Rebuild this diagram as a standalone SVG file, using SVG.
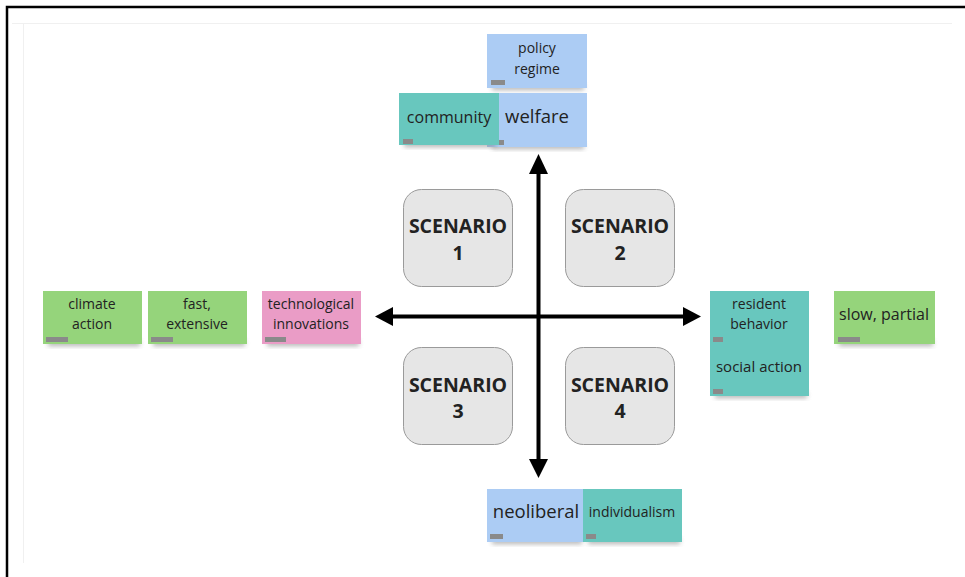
<svg xmlns="http://www.w3.org/2000/svg" width="965" height="577" viewBox="0 0 965 577">
<defs>
<filter id="sh" x="-20%" y="-50%" width="140%" height="200%"><feGaussianBlur stdDeviation="2.5"/></filter>
</defs>
<style>
.note text{font-family:"Open Sans","Noto Sans",sans-serif;fill:#222;text-anchor:middle}
.s14{font-size:14px}.s15{font-size:15px}.s16{font-size:16px}.s18{font-size:18.5px}
.blue{fill:#acccf4}.teal{fill:#68c7be}.green{fill:#95d47b}.pink{fill:#ea9cc6}
.tab{fill:#8a8a8a}
.shd{fill:#777;opacity:0.55;filter:url(#sh)}
.scn rect{fill:#e6e6e6;stroke:#9a9a9a;stroke-width:1}
.scn text{font-family:"Open Sans","Noto Sans",sans-serif;font-weight:bold;font-size:19.5px;fill:#222;text-anchor:middle}
.ax{stroke:#000;stroke-width:4;fill:none}
</style>
<rect width="965" height="577" fill="#fff"/>
<path d="M7,577 V7 H965" stroke="#000" stroke-width="2.5" fill="none"/>
<path d="M12,23.5 H952 M23.5,23.5 V563" stroke="#f0f0f0" stroke-width="1" fill="none"/>

<g id="policy-regime" class="note">
<rect class="shd" x="492" y="84" width="92" height="6"/>
<rect class="blue" x="487" y="34" width="100" height="54"/>
<rect class="tab" x="491" y="80" width="14" height="5"/>
<text class="s14" x="537" y="53">policy</text>
<text class="s14" x="537" y="74">regime</text>
</g>
<g id="welfare" class="note">
<rect class="shd" x="492" y="143" width="92" height="6"/>
<rect class="blue" x="487" y="93" width="100" height="54"/>
<rect class="tab" x="499" y="140" width="5" height="5"/>
<text class="s18" x="537" y="123">welfare</text>
</g>
<g id="community" class="note">
<rect class="shd" x="404" y="141" width="92" height="6"/>
<rect class="teal" x="399" y="93" width="100" height="52"/>
<rect class="tab" x="403" y="139" width="10" height="5"/>
<text class="s16" x="449" y="123">community</text>
</g>

<g id="climate-action" class="note">
<rect class="shd" x="48" y="340" width="92" height="6"/>
<rect class="green" x="43" y="291" width="99" height="53"/>
<rect class="tab" x="46" y="337" width="22" height="5"/>
<text class="s14" x="92" y="309">climate</text>
<text class="s14" x="92" y="329">action</text>
</g>
<g id="fast-extensive" class="note">
<rect class="shd" x="153" y="340" width="92" height="6"/>
<rect class="green" x="148" y="291" width="99" height="53"/>
<rect class="tab" x="151" y="337" width="22" height="5"/>
<text class="s14" x="197" y="309">fast,</text>
<text class="s14" x="197" y="329">extensive</text>
</g>
<g id="technological-innovations" class="note">
<rect class="shd" x="267" y="340" width="92" height="6"/>
<rect class="pink" x="262" y="291" width="99" height="53"/>
<rect class="tab" x="265" y="337" width="21" height="5"/>
<text class="s14" x="311" y="309">technological</text>
<text class="s14" x="311" y="329">innovations</text>
</g>

<g id="resident-behavior" class="note">
<rect class="teal" x="710" y="291" width="99" height="53"/>
<rect class="tab" x="713" y="337" width="10" height="5"/>
<text class="s14" x="759" y="309">resident</text>
<text class="s14" x="759" y="329">behavior</text>
</g>
<g id="social-action" class="note">
<rect class="shd" x="715" y="392" width="92" height="6"/>
<rect class="teal" x="710" y="344" width="99" height="52"/>
<rect class="tab" x="713" y="389" width="10" height="5"/>
<text class="s15" x="759" y="372">social action</text>
</g>
<g id="slow-partial" class="note">
<rect class="shd" x="839" y="340" width="94" height="6"/>
<rect class="green" x="834" y="291" width="101" height="53"/>
<rect class="tab" x="838" y="337" width="22" height="5"/>
<text class="s16" x="884" y="320">slow, partial</text>
</g>

<g id="neoliberal" class="note">
<rect class="shd" x="492" y="538" width="90" height="6"/>
<rect class="blue" x="487" y="489" width="96" height="53"/>
<rect class="tab" x="490" y="534" width="13" height="5"/>
<text class="s18" x="536" y="518">neoliberal</text>
</g>
<g id="individualism" class="note">
<rect class="shd" x="588" y="538" width="92" height="6"/>
<rect class="teal" x="583" y="489" width="99" height="53"/>
<rect class="tab" x="586" y="534" width="10" height="5"/>
<text class="s14" x="632" y="517">individualism</text>
</g>

<g id="scenario-1" class="scn"><rect x="403.5" y="189.5" width="109" height="97" rx="18"/><text x="458" y="233">SCENARIO</text><text x="458" y="260">1</text></g>
<g id="scenario-2" class="scn"><rect x="565.5" y="189.5" width="109" height="97" rx="18"/><text x="620" y="233">SCENARIO</text><text x="620" y="260">2</text></g>
<g id="scenario-3" class="scn"><rect x="403.5" y="347.5" width="109" height="97" rx="18"/><text x="458" y="392">SCENARIO</text><text x="458" y="418">3</text></g>
<g id="scenario-4" class="scn"><rect x="565.5" y="347.5" width="109" height="97" rx="18"/><text x="620" y="392">SCENARIO</text><text x="620" y="418">4</text></g>

<g id="connectors">
<line class="ax" x1="538.5" y1="316" x2="538.5" y2="172"/>
<line class="ax" x1="538.5" y1="316" x2="538.5" y2="461"/>
<line class="ax" x1="538.5" y1="316.5" x2="392" y2="316.5"/>
<line class="ax" x1="538.5" y1="316.5" x2="684" y2="316.5"/>
<path d="M538.5,154 L548,174 L529,174 z" fill="#000"/>
<path d="M538.5,478 L548,459 L529,459 z" fill="#000"/>
<path d="M375,316.5 L393,307 L393,326 z" fill="#000"/>
<path d="M701,316.5 L683,307 L683,326 z" fill="#000"/>
</g>
</svg>
